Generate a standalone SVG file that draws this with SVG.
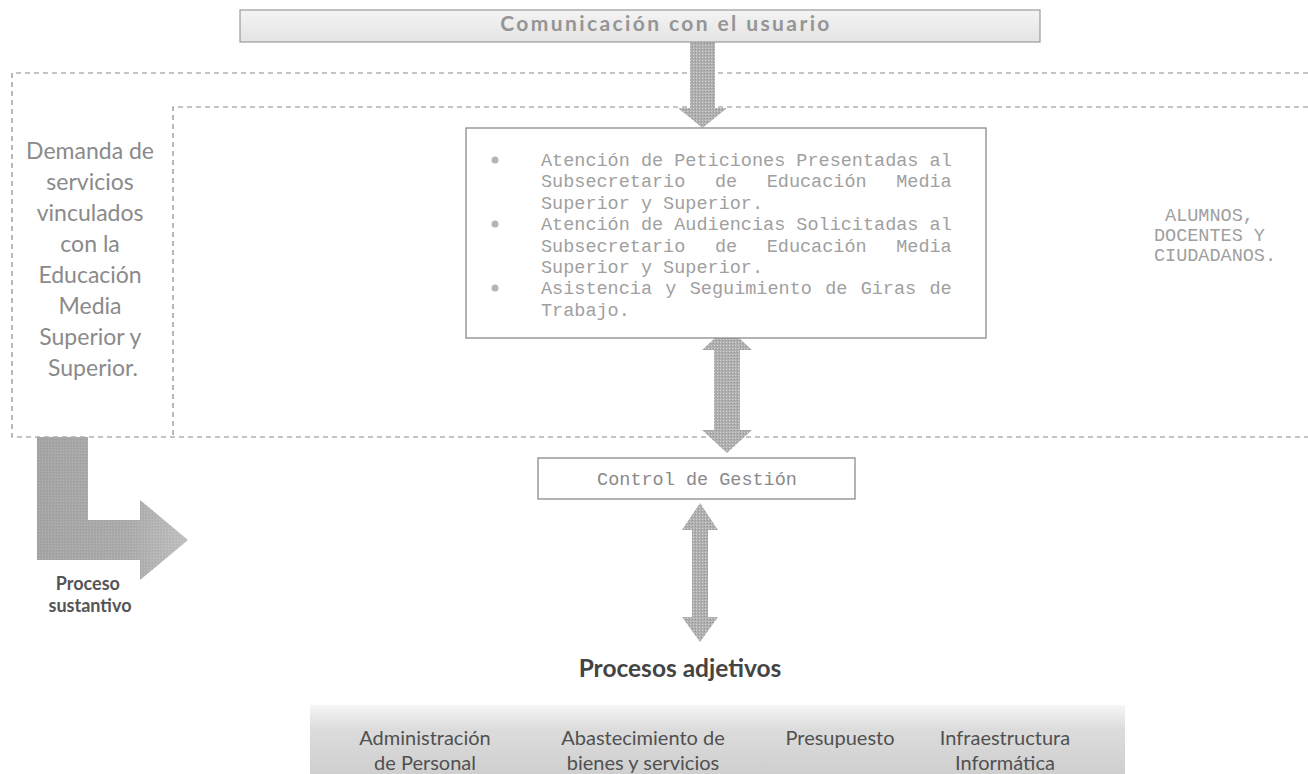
<svg xmlns="http://www.w3.org/2000/svg" width="1308" height="774" viewBox="0 0 1308 774">
<style>
.dash{fill:none;stroke:#8a8a8a;stroke-width:1.2;stroke-dasharray:5 4}
.mono{font-family:"Liberation Mono","DejaVu Sans Mono",monospace;font-size:18.5px;fill:#a0a0a0}
.gill{font-family:Lato,"Open Sans",sans-serif;fill:#8a8a8a}
.box{fill:#fff;stroke:#8a8a8a;stroke-width:1.3}
.arrow{fill:url(#halftone);stroke:none}
</style>
<defs>
<pattern id="halftone" width="3" height="3" patternUnits="userSpaceOnUse">
<rect width="3" height="3" fill="#b0b0b0"/>
<rect x="0" y="0" width="1" height="1" fill="#d4d4d4"/>
<rect x="2" y="1" width="1" height="1" fill="#959595"/>
</pattern>
<linearGradient id="lgrad" x1="0" y1="0" x2="1" y2="0">
<stop offset="0" stop-color="#9e9e9e"/>
<stop offset="0.6" stop-color="#a8a8a8"/>
<stop offset="1" stop-color="#c8c8c8"/>
</linearGradient>
<linearGradient id="bargrad" x1="0" y1="0" x2="0" y2="1">
<stop offset="0" stop-color="#f4f4f4"/>
<stop offset="1" stop-color="#e4e4e4"/>
</linearGradient>
<linearGradient id="bandgrad" x1="0" y1="0" x2="0" y2="1">
<stop offset="0" stop-color="#f6f6f6"/>
<stop offset="0.35" stop-color="#dcdcdc"/>
<stop offset="1" stop-color="#cfcfcf"/>
</linearGradient>
</defs>
<rect width="1308" height="774" fill="#fff"/>

<g id="frames">
<path class="dash" d="M1308,73 H12 V437 H1308"/>
<path class="dash" d="M1308,107 H173 V437"/>
</g>

<g id="connectors">
<polygon class="arrow" points="690,42 715,42 715,108 727,108 702.5,128 678,108 690,108"/>
<polygon class="arrow" points="727,327 752,350 740,350 740,430 752,430 727,453 702,430 714,430 714,350 702,350"/>
<polygon class="arrow" points="700,503 718,530 708,530 708,617 718,617 700,642 682,617 692,617 692,530 682,530"/>
</g>

<g id="top-bar">
<rect x="240" y="10" width="800" height="32" fill="url(#bargrad)" stroke="#9a9a9a" stroke-width="1.2"/>
<text x="666" y="31" text-anchor="middle" class="gill" font-size="21" font-weight="bold" letter-spacing="2.4" style="fill:#959595">Comunicación con el usuario</text>
</g>

<g id="demanda">
<text class="gill" font-size="23" text-anchor="middle">
<tspan x="93" y="159">Demanda de</tspan>
<tspan x="93" y="190">servicios</tspan>
<tspan x="93" y="221">vinculados</tspan>
<tspan x="93" y="252">con  la</tspan>
<tspan x="93" y="283">Educación</tspan>
<tspan x="93" y="314">Media</tspan>
<tspan x="93" y="345">Superior y</tspan>
<tspan x="93" y="376">Superior.</tspan>
</text>
</g>

<g id="servicios">
<rect class="box" x="466" y="128" width="520" height="210"/>
<circle cx="495" cy="160" r="3.5" fill="#b5b5b5"/>
<circle cx="495" cy="224" r="3.5" fill="#b5b5b5"/>
<circle cx="495" cy="288" r="3.5" fill="#b5b5b5"/>
<text class="mono" x="541" y="166">Atención de Peticiones Presentadas al</text>
<text class="mono" y="187"><tspan x="541">Subsecretario</tspan><tspan x="714.9">de</tspan><tspan x="766.7">Educación</tspan><tspan x="896.2">Media</tspan></text>
<text class="mono" x="541" y="209">Superior y Superior.</text>
<text class="mono" x="541" y="230">Atención de Audiencias Solicitadas al</text>
<text class="mono" y="252"><tspan x="541">Subsecretario</tspan><tspan x="714.9">de</tspan><tspan x="766.7">Educación</tspan><tspan x="896.2">Media</tspan></text>
<text class="mono" x="541" y="273">Superior y Superior.</text>
<text class="mono" x="541" y="294" word-spacing="2.2">Asistencia y Seguimiento de Giras de</text>
<text class="mono" x="541" y="316">Trabajo.</text>
</g>

<g id="usuarios">
<text class="mono" font-size="18" text-anchor="middle">
<tspan x="1215" y="221">ALUMNOS,</tspan>
<tspan x="1215" y="241">DOCENTES Y</tspan>
<tspan x="1215" y="261">CIUDADANOS.</tspan>
</text>
</g>

<g id="control">
<rect class="box" x="538" y="458" width="317" height="41"/>
<text class="mono" x="697" y="485" text-anchor="middle" style="fill:#8a8a8a">Control de Gestión</text>
</g>

<g id="proceso-sustantivo">
<polygon points="37,437 88,437 88,520 140,520 140,500 188,540 140,580 140,560 37,560" fill="url(#lgrad)"/>
<polygon points="37,437 88,437 88,520 140,520 140,500 188,540 140,580 140,560 37,560" fill="url(#halftone)" opacity="0.35"/>
<text class="gill" font-size="18" font-weight="bold" text-anchor="middle" style="fill:#555">
<tspan x="90" y="590">Proceso</tspan>
<tspan x="90" y="612">sustantivo</tspan>
</text>
</g>

<g id="procesos-adjetivos">
<text class="gill" x="680" y="677" font-size="24.5" font-weight="bold" text-anchor="middle" style="fill:#444">Procesos adjetivos</text>
</g>

<g id="adjetivos-band">
<rect x="310" y="705" width="815" height="69" fill="url(#bandgrad)"/>
<g class="gill" font-size="20" text-anchor="middle" style="fill:#505050">
<text x="425" y="745">Administración</text>
<text x="425" y="770">de Personal</text>
<text x="643" y="745">Abastecimiento de</text>
<text x="643" y="770">bienes y servicios</text>
<text x="840" y="745">Presupuesto</text>
<text x="1005" y="745">Infraestructura</text>
<text x="1005" y="770">Informática</text>
</g>
</g>
</svg>
